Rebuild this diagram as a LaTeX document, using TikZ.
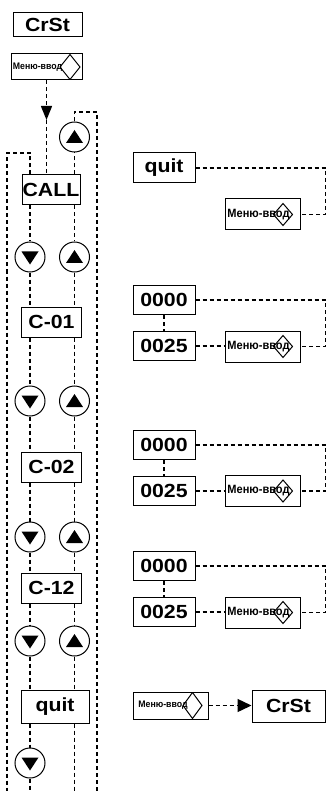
\documentclass[tikz,border=0pt]{standalone}
\usepackage{fontspec}
\setmainfont{Liberation Sans}
\newfontfamily\bigfont[FakeStretch=1.12]{Liberation Sans}
\newfontfamily\smallfont[FakeStretch=0.92]{Liberation Sans}
\usetikzlibrary{arrows.meta}
\begin{document}
\begin{tikzpicture}[x=1pt,y=-1pt,
  conn/.style={line width=1.4pt, dash pattern=on 4pt off 3pt},
  lcd/.style={draw, line width=1pt, inner sep=0pt, minimum width=62pt, minimum height=30pt,
    font=\bigfont\bfseries\fontsize{19}{19}\selectfont},
  btn/.style={circle, draw, line width=1pt, minimum size=30pt, inner sep=0pt},
  btnup/.style={btn, path picture={\fill ([yshift=7pt]path picture bounding box.center) -- ++(8.5,13) -- ++(-17,0) -- cycle;}},
  btndn/.style={btn, path picture={\fill ([yshift=-7.5pt]path picture bounding box.center) -- ++(8.5,-13) -- ++(-17,0) -- cycle;}},
  menubox/.style n args={3}{draw, line width=1pt, inner sep=0pt,
    path picture={\draw[line width=1pt] ([xshift=-#1]path picture bounding box.east) -- ++(-#2,#3) -- ++(-#2,-#3) -- ++(#2,-#3) -- cycle;}},
  smalltxt/.style={font=\smallfont\bfseries\fontsize{9.5}{9.5}\selectfont},
  midtxt/.style={font=\smallfont\bfseries\fontsize{12}{12}\selectfont},
  menuR/.style={menubox={7.5pt}{9.5}{11}, midtxt, minimum width=75pt, minimum height=31pt},
  tip/.style={-{Triangle[width=11pt,length=14pt]}}
]
\useasboundingbox (0,0) rectangle (327,791);

% ---------------- left column ----------------
\node[lcd, minimum width=69pt, minimum height=24pt] (crstT) at (47.5,25) {CrSt};
\node[menubox={2pt}{10}{12.5}, smalltxt, minimum width=71pt, minimum height=26pt] (menuT) at (46.5,67) {Меню-ввод\kern18pt};

\node[lcd, minimum width=58pt] (call) at (51,190) {CALL};
\node[btnup] (up0) at (74.5,137) {};

\node[btndn] (dn1) at (30,257) {};
\node[btnup] (up1) at (74.5,257) {};
\node[lcd, minimum width=60pt] (c01) at (51.5,322) {C-01};

\node[btndn] (dn2) at (30,401) {};
\node[btnup] (up2) at (74.5,401) {};
\node[lcd, minimum width=60pt] (c02) at (51.5,467) {C-02};

\node[btndn] (dn3) at (30,537) {};
\node[btnup] (up3) at (74.5,537) {};
\node[lcd, minimum width=60pt] (c12) at (51.5,588) {C-12};

\node[btndn] (dn4) at (30,641) {};
\node[btnup] (up4) at (74.5,641) {};
\node[lcd, minimum width=68pt, minimum height=33pt] (quitL) at (55,706.5) {quit};

\node[btndn] (dn5) at (30,763) {};

\coordinate (arrT) at (46.5,120);
\coordinate (lcorner) at (30,153);
\coordinate (lout) at (7,153);
\coordinate (lend) at (7,791);
\coordinate (ucorner) at (74.5,112);
\coordinate (rout) at (97,112);
\coordinate (rend) at (97,791);
\coordinate (dend) at (30,791);
\coordinate (uend) at (74.5,791);

\draw[conn, tip] (menuT.south) -- (arrT);
\draw[conn] (arrT) -- (call.north -| arrT);

\draw[conn] (call.north -| dn1) -- (lcorner) -- (lout) -- (lend);
\draw[conn] (call.north -| up0) -- (up0.south);
\draw[conn] (up0.north) -- (ucorner) -- (rout) -- (rend);

\draw[conn] (call.south -| dn1) -- (dn1.north);
\draw[conn] (dn1.south) -- (c01.north -| dn1);
\draw[conn] (c01.south -| dn1) -- (dn2.north);
\draw[conn] (dn2.south) -- (c02.north -| dn2);
\draw[conn] (c02.south -| dn2) -- (dn3.north);
\draw[conn] (dn3.south) -- (c12.north -| dn3);
\draw[conn] (c12.south -| dn3) -- (dn4.north);
\draw[conn] (dn4.south) -- (quitL.north -| dn4);
\draw[conn] (quitL.south -| dn4) -- (dn5.north);
\draw[conn] (dn5.south) -- (dend);

\draw[conn] (call.south -| up1) -- (up1.north);
\draw[conn] (up1.south) -- (c01.north -| up1);
\draw[conn] (c01.south -| up1) -- (up2.north);
\draw[conn] (up2.south) -- (c02.north -| up2);
\draw[conn] (c02.south -| up2) -- (up3.north);
\draw[conn] (up3.south) -- (c12.north -| up3);
\draw[conn] (c12.south -| up3) -- (up4.north);
\draw[conn] (up4.south) -- (quitL.north -| up4);
\draw[conn] (quitL.south -| up4) -- (uend);

% ---------------- right column ----------------
\node[lcd] (quitR) at (164,168) {quit};
\node[menuR] (menuQ) at (262.5,214.5) {Меню-ввод\kern8pt};
\draw[conn] (quitR.east) -- ++(130,0) |- (menuQ.east);

\node[lcd, minimum height=29pt] (a1) at (164,300) {0000};
\node[lcd, minimum height=29pt] (b1) at (164,346) {0025};
\node[menuR] (m1) at (262.5,346.5) {Меню-ввод\kern8pt};
\draw[conn] (a1.south) -- (b1.north);
\draw[conn] (b1.east) -- (b1.east -| m1.west);
\draw[conn] (a1.east) -- ++(130,0) |- (m1.east);

\node[lcd, minimum height=29pt] (a2) at (164,445) {0000};
\node[lcd, minimum height=29pt] (b2) at (164,491) {0025};
\node[menuR] (m2) at (262.5,491) {Меню-ввод\kern8pt};
\draw[conn] (a2.south) -- (b2.north);
\draw[conn] (b2.east) -- (b2.east -| m2.west);
\draw[conn] (a2.east) -- ++(130,0) |- (m2.east);

\node[lcd, minimum height=29pt] (a3) at (164,566) {0000};
\node[lcd, minimum height=29pt] (b3) at (164,612) {0025};
\node[menuR] (m3) at (262.5,612.5) {Меню-ввод\kern8pt};
\draw[conn] (a3.south) -- (b3.north);
\draw[conn] (b3.east) -- (b3.east -| m3.west);
\draw[conn] (a3.east) -- ++(130,0) |- (m3.east);

\node[menubox={6pt}{9.5}{13}, smalltxt, minimum width=75pt, minimum height=27pt] (menuB) at (170.5,705.5) {Меню-ввод\kern15pt};
\node[lcd, minimum width=73pt, minimum height=32pt] (crstB) at (288.5,706) {CrSt};
\draw[conn, -{Triangle[width=13pt,length=14pt]}] (menuB.east) -- (menuB.east -| crstB.west);
\end{tikzpicture}
\end{document}
